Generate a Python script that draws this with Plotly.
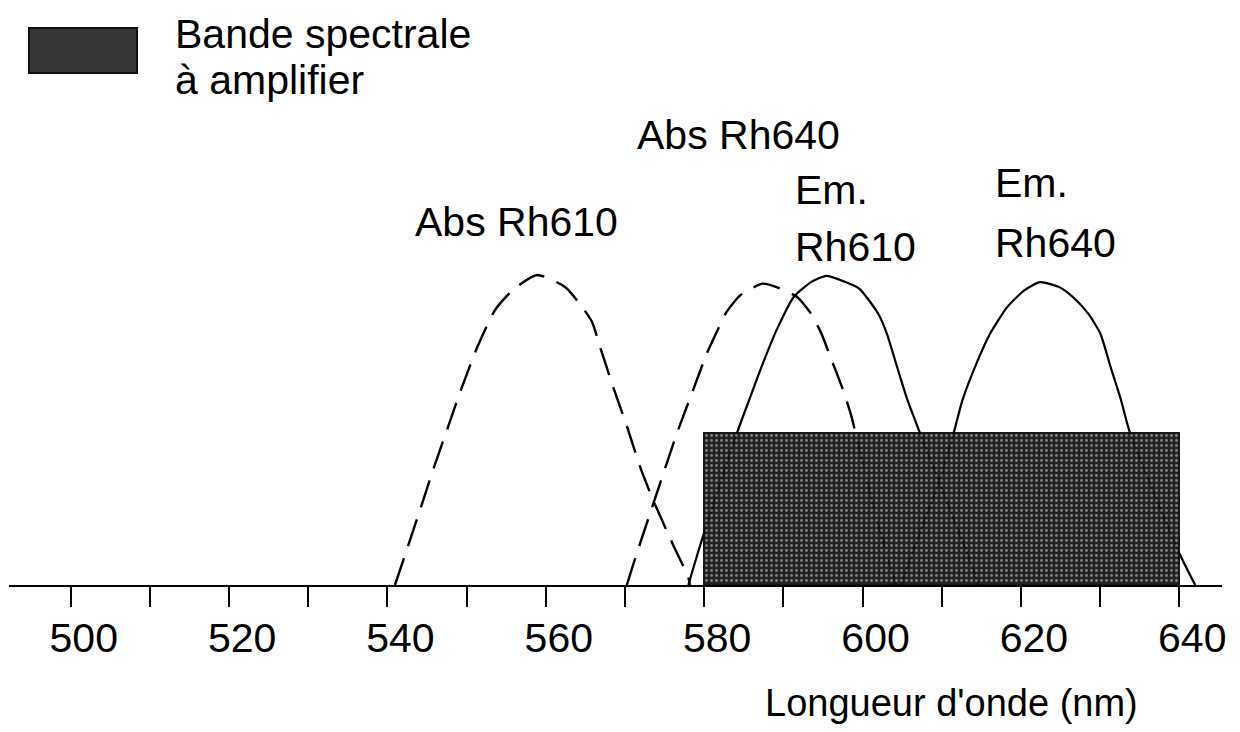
import plotly.graph_objects as go

# ---- data ----
abs610_x = [540.95, 542.43, 544.11, 545.76, 547.65, 549.42, 551.31, 553.59, 555.86, 558.9,
            562.43, 564.58, 565.84, 566.85, 568.5, 570.27, 571.91, 573.55, 576.08, 577.97, 578.2]
abs610_y = [0.0, 0.113, 0.242, 0.371, 0.510, 0.639, 0.765, 0.887, 0.952, 1.0,
            0.961, 0.897, 0.848, 0.768, 0.639, 0.510, 0.381, 0.274, 0.129, 0.026, 0.0]

abs640_x = [570.23, 571.49, 573.17, 574.85, 576.55, 578.44, 580.34, 581.60, 582.83, 584.58,
            587.40, 589.14, 591.74, 593.50, 594.80, 596.10, 597.40, 598.50, 599.15, 601.5, 604.2]
abs640_y = [0.0, 0.102, 0.231, 0.360, 0.489, 0.618, 0.747, 0.817, 0.881, 0.935,
            0.972, 0.961, 0.929, 0.875, 0.811, 0.725, 0.639, 0.553, 0.488, 0.24, 0.0]

em610_x = [578.0, 579.70, 584.14, 585.67, 587.40, 589.14, 591.31, 593.50, 595.45, 597.85,
           599.58, 601.98, 603.07, 604.37, 605.68, 607.20, 614.35, 614.6]
em610_y = [0.0, 0.145, 0.490, 0.596, 0.714, 0.822, 0.929, 0.977, 0.997, 0.977,
           0.956, 0.875, 0.811, 0.703, 0.596, 0.494, 0.026, 0.0]

em640_x = [605.0, 605.23, 610.02, 611.55, 612.62, 614.38, 616.12, 618.29, 620.47, 622.42,
           624.82, 626.56, 628.51, 630.03, 631.33, 632.65, 633.74, 640.04, 642.02]
em640_y = [0.0, 0.026, 0.359, 0.494, 0.596, 0.714, 0.811, 0.897, 0.951, 0.977,
           0.961, 0.929, 0.875, 0.811, 0.703, 0.596, 0.494, 0.101, 0.0]

band_start = 580
band_end = 640
band_height = 0.49

tick_major = [500, 520, 540, 560, 580, 600, 620, 640]
tick_labels = ["500", "520", "540", "560", "580", "600", "620", "640"]

x_range = [492.2, 645.4]
y_range = [0, 1.861]

FONT = "Liberation Sans, Arial, Helvetica, sans-serif"
FS = 41
FS_TITLE = 38

# page offset of the figure inside the browser (default body margin)
OFF = 8
PL, PR = 1, 1214      # plot area left/right in figure px
PB = 577              # plot area bottom in figure px (top = 0)

fig = go.Figure()

dash_style = "28px,13px"
for xs, ys, dash, w in [(abs610_x, abs610_y, dash_style, 2.4),
                        (abs640_x, abs640_y, dash_style, 2.4),
                        (em610_x, em610_y, "solid", 2.2),
                        (em640_x, em640_y, "solid", 2.2)]:
    fig.add_trace(go.Scatter(x=xs, y=ys, mode="lines",
                             line=dict(color="black", width=w, dash=dash, shape="spline", smoothing=0.6),
                             hoverinfo="skip", showlegend=False))

# band drawn on an overlaying axis so it sits above the curves
fig.add_trace(go.Bar(x=[(band_start + band_end) / 2], y=[band_height], width=[band_end - band_start],
                     xaxis="x2", yaxis="y2", opacity=0.94,
                     marker=dict(color="#151515",
                                 line=dict(color="#0a0a0a", width=2),
                                 pattern=dict(shape=".", fgcolor="#7a7a7a", bgcolor="#151515",
                                              size=5, solidity=0.25, fillmode="replace")),
                     hoverinfo="skip", showlegend=False))

fig.update_layout(
    width=1240, height=732,
    margin=dict(l=PL, r=1240 - PR, t=0, b=732 - PB),
    paper_bgcolor="white", plot_bgcolor="white",
    font=dict(family=FONT, size=FS, color="black"),
    showlegend=False,
    bargap=0,
    xaxis=dict(range=x_range, showgrid=False, zeroline=False,
               showline=True, linecolor="black", linewidth=2,
               ticks="outside", ticklen=20, tickwidth=2, tickcolor="black",
               tickvals=tick_major, ticktext=tick_labels,
               ticklabelshift=13, ticklabelstandoff=-4,
               tickfont=dict(family=FONT, size=FS, color="black"),
               minor=dict(dtick=10, tick0=500, ticks="outside", ticklen=20, tickwidth=2, tickcolor="black",
                          showgrid=False),
               fixedrange=True),
    yaxis=dict(range=y_range, visible=False, showgrid=False, zeroline=False, fixedrange=True),
    xaxis2=dict(range=x_range, overlaying="x", visible=False, fixedrange=True),
    yaxis2=dict(range=y_range, overlaying="y", visible=False, fixedrange=True),
)

W = PR - PL


def fx(px):
    return (px - OFF - PL) / W


def fy(py):
    return (PB - (py - OFF)) / PB


# legend swatch
fig.add_shape(type="rect", xref="paper", yref="paper",
              x0=fx(29), x1=fx(137), y0=fy(73), y1=fy(28),
              fillcolor="#363636", line=dict(color="#111111", width=2), layer="above")


def px_ann(text, px, py, xanchor="left", size=FS):
    fig.add_annotation(text=text, xref="paper", yref="paper",
                       x=fx(px), y=fy(py),
                       xanchor=xanchor, yanchor="middle", showarrow=False,
                       font=dict(family=FONT, size=size, color="black"))


px_ann("Bande spectrale", 173, 34)
px_ann("à amplifier", 173, 80)
px_ann("Abs Rh610", 413, 222)
px_ann("Abs Rh640", 635, 135)
px_ann("Em.", 793, 190)
px_ann("Rh610", 793, 247)
px_ann("Em.", 993, 183)
px_ann("Rh640", 993, 243)
px_ann("Longueur d'onde (nm)", 951, 703, xanchor="center", size=FS_TITLE)

fig.write_html("out.html")
